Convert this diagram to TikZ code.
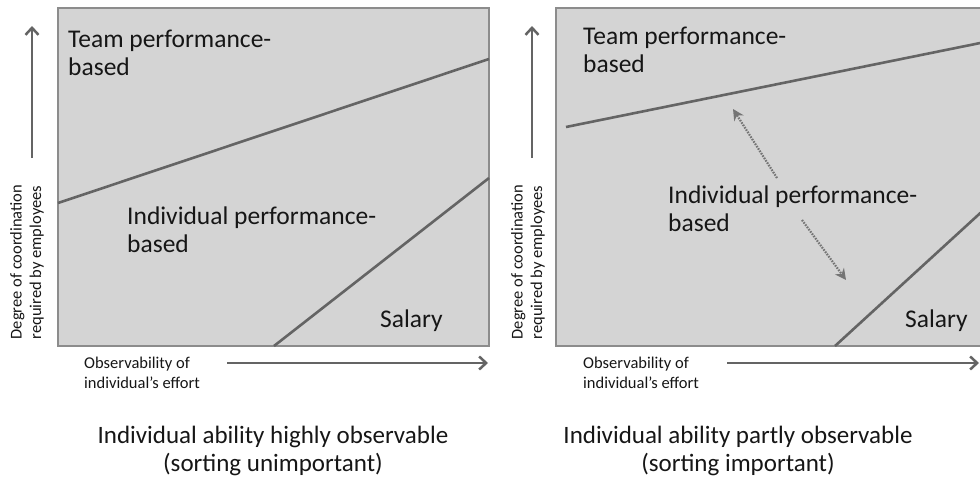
\documentclass[tikz,border=0pt]{standalone}
\usepackage{fontspec}
\setmainfont{Carlito}
\usetikzlibrary{arrows.meta}
\definecolor{panelgray}{RGB}{212,212,212}
\definecolor{framegray}{RGB}{140,140,140}
\definecolor{linegray}{RGB}{100,100,100}
\definecolor{inkgray}{RGB}{22,22,22}
\begin{document}
\begin{tikzpicture}[x=1pt,y=-1pt,
    region/.style={font=\fontsize{25.5}{28}\selectfont, text=inkgray, align=left, anchor=north west, inner sep=0pt},
    small/.style={font=\fontsize{16.5}{19.5}\selectfont, text=inkgray, align=left, inner sep=0pt},
    caption/.style={font=\fontsize{25}{28}\selectfont, text=inkgray, align=center, anchor=north, inner sep=0pt},
    border/.style={draw=linegray, line width=2.6pt},
    axis/.style={draw=linegray, line width=2.5pt, -{Straight Barb[length=7pt,width=13pt,line width=2.5pt]}},
    hint/.style={draw=linegray!90, line width=2.2pt, dash pattern=on 1.6pt off 1.2pt, -{Stealth[length=11pt,width=11pt]}}]
  \useasboundingbox (0,0) rectangle (980,479);
  \clip (0,0) rectangle (980,479);
  % left panel
  \draw[fill=panelgray, draw=framegray, line width=2pt] (58,8) rectangle (489,346);
  \draw[border] (58,203) -- (489,59);
  \draw[border] (274,346) -- (489,178);
  \node[region] (teamL) at (68,30) {Team performance-\\based};
  \node[region] (indivL) at (127,207) {Individual performance-\\based};
  \node[region] (salaryL) at (380,310) {Salary};
  \draw[axis] (32,158) -- (32,26); %Axis
  \draw[axis] (227,363) -- (488,363);
  \node[small, rotate=90] (yL) at (27,262) {Degree of coordination\\required by employees};
  \node[small, anchor=north west] (xL) at (84,357) {Observability of\\individual’s effort};
  \node[caption] (capL) at (273,426) {Individual ability highly observable\\(sorting unimportant)};
  % right panel
  \draw[fill=panelgray, draw=framegray, line width=2pt] (556,8) rectangle (1000,346);
  \draw[border] (566,127) -- (1000,39);
  \draw[border] (835,346) -- (1000,195);
  \node[region] (teamR) at (583,27) {Team performance-\\based};
  \node[region] (indivR) at (668,186) {Individual performance-\\based};
  \node[region] (salaryR) at (905,310) {Salary};
  \coordinate (upS) at (777,178);
  \coordinate (upE) at (733,109);
  \coordinate (dnS) at (802,220);
  \coordinate (dnE) at (846,280);
  \draw[hint] (upS) -- (upE);
  \draw[hint] (dnS) -- (dnE);
  \draw[axis] (532,158) -- (532,26);
  \draw[axis] (727,363) -- (979,363);
  \node[small, rotate=90] (yR) at (528,262) {Degree of coordination\\required by employees};
  \node[small, anchor=north west] (xR) at (583,357) {Observability of\\individual’s effort};
  \node[caption] (capR) at (738,426) {Individual ability partly observable\\(sorting important)};
\end{tikzpicture}
\end{document}
